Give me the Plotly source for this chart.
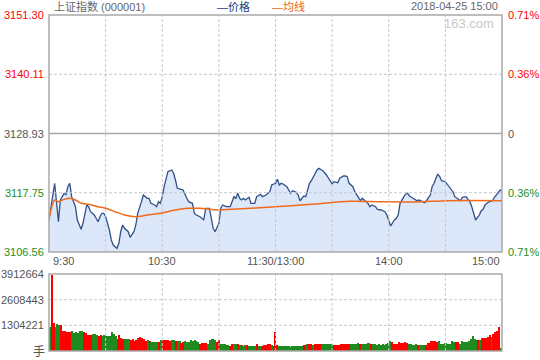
import plotly.graph_objects as go

# ---------------- data ----------------
prev_close = 3128.93
y_ticks_left = [3151.30, 3140.11, 3128.93, 3117.75, 3106.56]
y_ticks_right = ["0.71%", "0.36%", "0", "0.36%", "0.71%"]
vol_ticks = [3912664, 2608443, 1304221]
x_tick_labels = ["9:30", "10:30", "11:30/13:00", "14:00", "15:00"]
x_tick_times = ["09:30", "10:30", "11:30", "14:00", "15:00"]

price_times = [
    "09:30", "09:32", "09:33", "09:35", "09:36", "09:38", "09:39", "09:40", "09:41", "09:42",
    "09:44", "09:45", "09:47", "09:48", "09:49", "09:50", "09:51", "09:52", "09:54", "09:56",
    "09:57", "09:58", "09:59", "10:00", "10:01", "10:02", "10:03", "10:04", "10:06", "10:07",
    "10:08", "10:09", "10:10", "10:12", "10:13", "10:15", "10:16", "10:17", "10:19", "10:20",
    "10:22", "10:23", "10:24", "10:26", "10:27", "10:28", "10:29", "10:30", "10:31", "10:32",
    "10:33", "10:35", "10:36", "10:37", "10:38", "10:40", "10:41", "10:43", "10:44", "10:46",
    "10:47", "10:48", "10:50", "10:52", "10:53", "10:55", "10:56", "10:57", "10:58", "11:00",
    "11:01", "11:02", "11:04", "11:06", "11:08", "11:09", "11:10", "11:11", "11:12", "11:13",
    "11:14", "11:16", "11:17", "11:19", "11:20", "11:22", "11:23", "11:25", "11:27", "11:28",
    "11:30", "13:01", "13:02", "13:03", "13:04", "13:06", "13:08", "13:09", "13:11", "13:12",
    "13:13", "13:15", "13:16", "13:17", "13:18", "13:19", "13:20", "13:22", "13:23", "13:25",
    "13:27", "13:29", "13:30", "13:31", "13:33", "13:34", "13:36", "13:37", "13:38", "13:39",
    "13:41", "13:42", "13:43", "13:45", "13:46", "13:47", "13:49", "13:50", "13:51", "13:53",
    "13:54", "13:56", "13:58", "13:59", "14:00", "14:01", "14:03", "14:04", "14:05", "14:06",
    "14:08", "14:09", "14:10", "14:11", "14:12", "14:14", "14:15", "14:16", "14:18", "14:19",
    "14:20", "14:22", "14:23", "14:24", "14:25", "14:26", "14:27", "14:28", "14:30", "14:31",
    "14:33", "14:34", "14:35", "14:37", "14:38", "14:39", "14:41", "14:42", "14:43", "14:44",
    "14:45", "14:46", "14:48", "14:49", "14:50", "14:51", "14:52", "14:53", "14:55", "14:56",
    "14:58", "14:59", "15:00",
]
price_values = [
    3112.60, 3117.64, 3119.53, 3112.28, 3116.38, 3117.64, 3117.40, 3118.89, 3119.53, 3117.00,
    3115.11, 3112.60, 3110.85, 3111.98, 3113.87, 3115.43, 3115.11, 3114.17, 3113.54, 3112.28,
    3113.22, 3113.87, 3113.87, 3113.22, 3111.98, 3110.71, 3108.83, 3107.88, 3107.26, 3108.20,
    3110.39, 3111.66, 3111.03, 3110.39, 3109.34, 3110.39, 3111.66, 3113.87, 3116.06, 3117.32,
    3116.70, 3116.70, 3115.75, 3115.43, 3115.11, 3116.06, 3115.75, 3117.00, 3118.89, 3120.15,
    3121.72, 3122.04, 3121.42, 3120.15, 3118.59, 3118.40, 3118.26, 3116.70, 3116.06, 3115.75,
    3113.87, 3113.54, 3113.22, 3112.60, 3114.81, 3114.81, 3113.22, 3111.03, 3110.39, 3111.98,
    3114.81, 3115.43, 3115.11, 3115.11, 3117.00, 3116.70, 3117.64, 3116.70, 3116.38, 3116.70,
    3116.38, 3116.89, 3115.75, 3115.75, 3117.00, 3117.45, 3117.00, 3117.32, 3117.94, 3119.21,
    3119.53, 3120.28, 3119.21, 3119.53, 3119.40, 3118.89, 3117.64, 3118.13, 3117.83, 3117.32,
    3116.24, 3117.13, 3117.00, 3118.13, 3119.53, 3120.02, 3120.78, 3122.04, 3122.36, 3121.91,
    3121.10, 3119.83, 3119.40, 3119.83, 3119.64, 3120.47, 3120.91, 3120.91, 3120.78, 3119.53,
    3118.89, 3117.94, 3117.32, 3116.24, 3116.70, 3116.38, 3115.75, 3115.11, 3115.43, 3115.11,
    3114.62, 3114.49, 3114.17, 3113.54, 3112.28, 3111.47, 3112.60, 3112.92, 3113.54, 3115.75,
    3117.00, 3117.51, 3117.64, 3117.13, 3116.89, 3116.51, 3116.24, 3116.38, 3116.06, 3115.87,
    3116.24, 3117.32, 3118.89, 3119.53, 3120.47, 3121.28, 3120.78, 3120.02, 3119.83, 3119.40,
    3118.59, 3117.94, 3117.00, 3116.51, 3116.24, 3116.89, 3117.00, 3116.51, 3116.06, 3115.11,
    3113.54, 3112.60, 3113.54, 3114.36, 3114.62, 3115.43, 3115.75, 3116.00, 3116.24, 3116.89,
    3117.75, 3118.26, 3118.08,
]

avg_times = ["09:30", "09:33", "09:35", "09:37", "09:41", "09:44", "09:47", "09:51", "09:56",
             "10:00", "10:05", "10:10", "10:16", "10:22", "10:29", "10:37", "10:44", "10:50",
             "11:00", "11:07", "11:30", "13:21", "13:39", "13:56", "14:14", "14:31", "15:00"]
avg_values = [3112.92, 3116.38, 3116.06, 3116.38, 3116.70, 3116.38, 3115.75, 3115.56, 3115.11,
              3114.81, 3114.17, 3113.54, 3113.22, 3113.54, 3113.87, 3114.49, 3114.81, 3114.81,
              3114.49, 3114.62, 3115.11, 3115.62, 3116.13, 3116.06, 3116.00, 3116.24, 3116.24]

# volume per minute, in units of 10,000 手 (241 bars, 09:30 .. 15:00)
volume_wan = [
    122, 385, 142, 122, 136, 130, 130, 102, 102, 97,
    97, 97, 100, 91, 97, 91, 102, 100, 97, 91,
    80, 80, 80, 88, 85, 81, 76, 80, 75, 80,
    75, 75, 75, 97, 85, 75, 59, 80, 66, 59,
    61, 59, 59, 54, 59, 53, 58, 68, 71, 66,
    61, 51, 54, 51, 46, 46, 46, 46, 46, 54,
    54, 54, 54, 54, 51, 54, 54, 51, 51, 51,
    39, 46, 49, 46, 44, 54, 51, 54, 49, 44,
    37, 39, 39, 39, 34, 54, 59, 59, 54, 46,
    54, 34, 34, 34, 29, 29, 27, 34, 37, 34,
    37, 32, 29, 24, 32, 29, 25, 25, 24, 24,
    34, 25, 24, 24, 29, 29, 34, 34, 29, 24,
    97, 29, 24, 24, 24, 24, 24, 24, 20, 24,
    24, 24, 24, 24, 24, 29, 29, 34, 34, 34,
    29, 34, 34, 34, 34, 34, 34, 34, 34, 34,
    34, 29, 29, 29, 29, 34, 34, 34, 34, 34,
    34, 34, 37, 34, 41,
    34, 34, 34, 37, 39, 39, 34, 34, 34, 32,
    37, 32, 34, 32, 37, 41, 49, 44, 37, 34,
    34, 44, 41, 41, 44, 39, 34, 34, 29, 29,
    34, 29, 29, 29, 29, 29, 39, 41, 49, 49,
    53, 46, 49, 37, 37, 41, 41, 37, 37, 49,
    44, 44, 44, 37, 49, 44, 44, 44, 49, 63,
    75, 63, 58, 54, 54, 66, 66, 66, 71, 80,
    71, 85, 95, 102, 120, 15,
]
# R = up (red), G = down (green)
volume_dir = list(
    "GRRGGGRRRR" "RRGGGGGGRR" "RRRGGGRRGG" "GGGGGGRRRR" "GGGRRRRRRR" "RRGRGGGGRG" "RRRRRGGRGG"
    "RRGGGGGGGG" "RRRRGGGGGR" "RGGGGGRRGG" "RGRGGRGGGG" "RGGRRRRRGR" "RRGGGGGGGG" "GGGGGRRGRR"
    "GRRRRGGGGG" "GRRRRRRRRR" "GGGGG"
    "RGGGGGRGGG" "GGGGGGGRRR" "RRRRRRGGGG" "GRGGGRRRRR" "RRGGGGGGGG" "GRRGGGGGGG" "GGGRGRRRRR"
    "GRRRRG"
)

# ---------------- helpers ----------------
def t2i(t):
    h, m = map(int, t.split(":"))
    mins = h * 60 + m
    return mins - 570 if mins <= 690 else 120 + (mins - 780)

px = [t2i(t) for t in price_times]
ax_ = [t2i(t) for t in avg_times]
vol = [v * 10000 for v in volume_wan]
vol_x = list(range(len(vol)))
vol_col = ["#ff0000" if d == "R" else "#1f8a1f" for d in volume_dir]

RED = "#ff0000"
GREEN = "#1e8c1e"
GRAY = "#555555"
GRID = "#c8c8c8"
BORDER = "#a9a9a9"
NUMFONT = "Liberation Sans, Arial, sans-serif"
CJKFONT = "Liberation Sans, Noto Sans CJK SC, sans-serif"

fig = go.Figure()
fig.add_trace(go.Scatter(
    x=px, y=price_values, mode="lines",
    line=dict(color="#2f5088", width=1.3),
    fill="tozeroy", fillcolor="#dce7fa",
    xaxis="x", yaxis="y", hoverinfo="skip",
))
fig.add_trace(go.Scatter(
    x=ax_, y=avg_values, mode="lines",
    line=dict(color="#f06a1c", width=1.5, shape="spline", smoothing=0.8),
    xaxis="x", yaxis="y", hoverinfo="skip",
))
fig.add_trace(go.Bar(
    x=vol_x, y=vol, marker=dict(color=vol_col, line=dict(width=0)),
    width=0.6, xaxis="x2", yaxis="y2", hoverinfo="skip",
))

# ---------------- layout ----------------
W, H = 540, 360
ml, mr, mt, mb = 49, 38, 15, 9
ph = H - mt - mb
def py(ypix):
    return (H - mb - ypix) / ph

main_dom = [py(252), 1]
vol_dom = [0, py(274)]

ax_common = dict(showgrid=False, zeroline=False, showticklabels=False, ticks="", showline=False, fixedrange=True)
fig.update_layout(
    width=W, height=H,
    margin=dict(l=ml, r=mr, t=mt, b=mb, pad=0),
    paper_bgcolor="white", plot_bgcolor="white",
    showlegend=False, bargap=0,
    xaxis=dict(range=[0, 240], domain=[0, 1], anchor="y", **ax_common),
    yaxis=dict(range=[y_ticks_left[-1], y_ticks_left[0]], domain=main_dom, anchor="x", **ax_common),
    xaxis2=dict(range=[-0.5, 240.5], domain=[0, 1], anchor="y2", **ax_common),
    yaxis2=dict(range=[0, vol_ticks[0]], domain=vol_dom, anchor="x2", **ax_common),
)

shapes = []
dash = "3px,2px"
# vertical grid lines every 30 minutes
for k in range(30, 240, 30):
    for yr in ("y domain", "y2 domain"):
        shapes.append(dict(type="line", xref="x", yref=yr, x0=k, x1=k, y0=0, y1=1,
                           line=dict(color=GRID, width=1, dash=dash), layer="above"))
# horizontal grid lines main
for v in (y_ticks_left[1], y_ticks_left[3]):
    shapes.append(dict(type="line", xref="paper", yref="y", x0=0, x1=1, y0=v, y1=v,
                       line=dict(color=GRID, width=1, dash=dash), layer="above"))
shapes.append(dict(type="line", xref="paper", yref="y", x0=0, x1=1, y0=prev_close, y1=prev_close,
                   line=dict(color=BORDER, width=1.5), layer="above"))
for v in vol_ticks[1:]:
    shapes.append(dict(type="line", xref="paper", yref="y2", x0=0, x1=1, y0=v, y1=v,
                       line=dict(color=GRID, width=1, dash=dash), layer="below"))
# borders
for yr in ("y domain", "y2 domain"):
    shapes.append(dict(type="rect", xref="paper", yref=yr, x0=0, x1=1, y0=0, y1=1,
                       line=dict(color=BORDER, width=1.5), fillcolor="rgba(0,0,0,0)", layer="above"))
fig.update_layout(shapes=shapes)

ann = []
left_cols = [RED, RED, GRAY, GREEN, GREEN]
for v, c in zip(y_ticks_left, left_cols):
    ann.append(dict(text=f"{v:.2f}", xref="paper", yref="y", x=0, y=v, xshift=-3,
                    xanchor="right", yanchor="middle", showarrow=False,
                    font=dict(family=NUMFONT, size=11, color=c)))
for v, t, c in zip(y_ticks_left, y_ticks_right, left_cols):
    ann.append(dict(text=t, xref="paper", yref="y", x=1, y=v, xshift=4,
                    xanchor="left", yanchor="middle", showarrow=False,
                    font=dict(family=NUMFONT, size=11, color=c)))
for v in vol_ticks:
    ann.append(dict(text=str(v), xref="paper", yref="y2", x=0, y=v, xshift=-3,
                    xanchor="right", yanchor="middle", showarrow=False,
                    font=dict(family=NUMFONT, size=11, color=GRAY)))
ann.append(dict(text="手", xref="paper", yref="y2", x=0, y=0, xshift=-2, yshift=-1,
                xanchor="right", yanchor="middle", showarrow=False,
                font=dict(family=CJKFONT, size=12, color=GRAY)))
anchors = ["left", "center", "center", "center", "right"]
shifts = [2, 0, 0, 0, 0]
for lab, t, a, s in zip(x_tick_labels, x_tick_times, anchors, shifts):
    ann.append(dict(text=lab, xref="x", yref="paper", x=t2i(t), y=py(261), xshift=s,
                    xanchor=a, yanchor="middle", showarrow=False,
                    font=dict(family=NUMFONT, size=11, color=GRAY)))
# header
ann.append(dict(text="上证指数 (000001)", xref="paper", yref="paper", x=0, y=py(6), xshift=3,
                xanchor="left", yanchor="middle", showarrow=False,
                font=dict(family=CJKFONT, size=11, color="#666666")))
ann.append(dict(text="—价格", xref="paper", yref="paper", x=(215 - ml) / 453, y=py(6),
                xanchor="left", yanchor="middle", showarrow=False,
                font=dict(family=CJKFONT, size=11, color="#1c3d78")))
ann.append(dict(text="—均线", xref="paper", yref="paper", x=(270 - ml) / 453, y=py(6),
                xanchor="left", yanchor="middle", showarrow=False,
                font=dict(family=CJKFONT, size=11, color="#f0640a")))
ann.append(dict(text="2018-04-25 15:00", xref="paper", yref="paper", x=1, y=py(6), xshift=-2,
                xanchor="right", yanchor="middle", showarrow=False,
                font=dict(family=NUMFONT, size=11, color="#666666")))
ann.append(dict(text="163.com", xref="paper", yref="paper", x=1, y=py(23), xshift=-6,
                xanchor="right", yanchor="middle", showarrow=False,
                font=dict(family=NUMFONT, size=13, color="#c8c8c8")))
fig.update_layout(annotations=ann)

# remove the browser's default 8px page margin so the 540x360 figure fills the window
fig.write_html(
    "out.html",
    config={"displayModeBar": False},
    post_script="document.body.style.margin='0';document.body.style.overflow='hidden';",
)
